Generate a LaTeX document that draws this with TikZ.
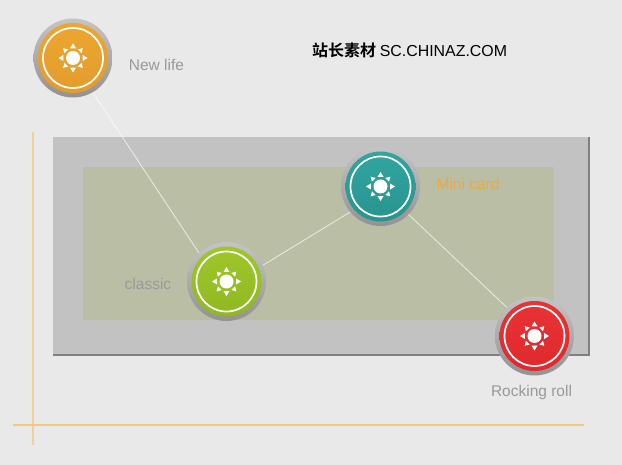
\documentclass[tikz,border=0pt]{standalone}
\usepackage{fontspec}
\setmainfont{Liberation Sans}
\newfontfamily\titlefont{Liberation Sans}
\newfontfamily\cjkfont{Noto Sans CJK SC}[BoldFont=* Bold]
\definecolor{pagebg}{HTML}{E9E9E9}
\definecolor{panelout}{HTML}{C2C2C2}
\definecolor{panelin}{HTML}{B9BEA5}
\definecolor{panelshade}{HTML}{808080}
\definecolor{guide}{HTML}{F6C56F}
\definecolor{labelgray}{HTML}{999999}
\definecolor{labelorange}{HTML}{EBAA40}
\definecolor{orangetop}{HTML}{ECA62F}
\definecolor{orangebot}{HTML}{E39C2E}
\definecolor{tealtop}{HTML}{31A5A0}
\definecolor{tealbot}{HTML}{29938F}
\definecolor{greentop}{HTML}{9FC62A}
\definecolor{greenbot}{HTML}{90B823}
\definecolor{redtop}{HTML}{EA3236}
\definecolor{redbot}{HTML}{DE2A2D}
\definecolor{rimtop}{HTML}{C4C4C4}
\definecolor{rimbot}{HTML}{929292}
\newcommand{\sunrays}{%
  \fill[white] (9.6,3) -- (14.5,0) -- (9.6,-3) -- cycle;
  \fill[white] (-3,9.6) -- (0,14.5) -- (3,9.6) -- cycle;
  \fill[white] (-9.6,-3) -- (-14.5,0) -- (-9.6,3) -- cycle;
  \fill[white] (-3,-9.6) -- (0,-14.5) -- (3,-9.6) -- cycle;
  \fill[white] (8.55,4.85) -- (9.8,9.8) -- (4.85,8.55) -- cycle;
  \fill[white] (-8.55,4.85) -- (-9.8,9.8) -- (-4.85,8.55) -- cycle;
  \fill[white] (8.55,-4.85) -- (9.8,-9.8) -- (4.85,-8.55) -- cycle;
  \fill[white] (-8.55,-4.85) -- (-9.8,-9.8) -- (-4.85,-8.55) -- cycle;
}
\tikzset{
  x=1pt,y=-1pt,
  badge/.style n args={2}{circle,minimum size=79pt,inner sep=0pt,top color=rimtop,bottom color=rimbot,
    path picture={
      \begin{scope}[shift={(path picture bounding box.center)}]
        \shade[top color=#1,bottom color=#2] (0,0) circle[radius=35];
        \draw[white,line width=1.7pt] (0,0) circle[radius=30];
        \fill[white] (0,0) circle[radius=7];
        \sunrays
      \end{scope}
    }},
  link/.style={white,opacity=0.7,line width=0.8pt},
  guideline/.style={guide,line width=1.8pt},
  caption/.style={inner sep=0pt,text=labelgray,font=\fontsize{15.5}{18}\selectfont},
}
\begin{document}
\begin{tikzpicture}
\useasboundingbox (0,0) rectangle (622,465);
\fill[pagebg] (0,0) rectangle (622,465);
\fill[panelshade] (53,137) rectangle (590,356);
\fill[panelout] (53,137) rectangle (588,354);
\fill[panelin] (83,167) rectangle (554,320);
\draw[guideline,opacity=0.65] (33,132) -- (33,445);
\draw[guideline,opacity=0.9] (13,425) -- (584,425);
\node[badge={orangetop}{orangebot}] (orange) at (73,58) {};
\node[badge={greentop}{greenbot}] (green) at (226.5,281.5) {};
\node[badge={tealtop}{tealbot}] (teal) at (380.5,186.5) {};
\node[badge={redtop}{redbot}] (red) at (534.5,336) {};
\draw[link] (orange.300) -- (green.134);
\draw[link] (green.24) -- (teal.220);
\draw[link] (teal.315) -- (red.134);
\node[caption] (newlife) at (156.5,65) {New life};
\node[caption] (classic) at (148,283.5) {classic};
\node[caption,text=labelorange] (minicard) at (468,184) {Mini card};
\node[caption] (rocking) at (531.5,392.5) {Rocking roll};
\node[inner sep=0pt,anchor=west,text=black] (title) at (312,50.5) {\cjkfont\bfseries\fontsize{16}{18}\selectfont 站长素材 \titlefont\mdseries\fontsize{15.9}{18}\selectfont SC.CHINAZ.COM};
\end{tikzpicture}
\end{document}
